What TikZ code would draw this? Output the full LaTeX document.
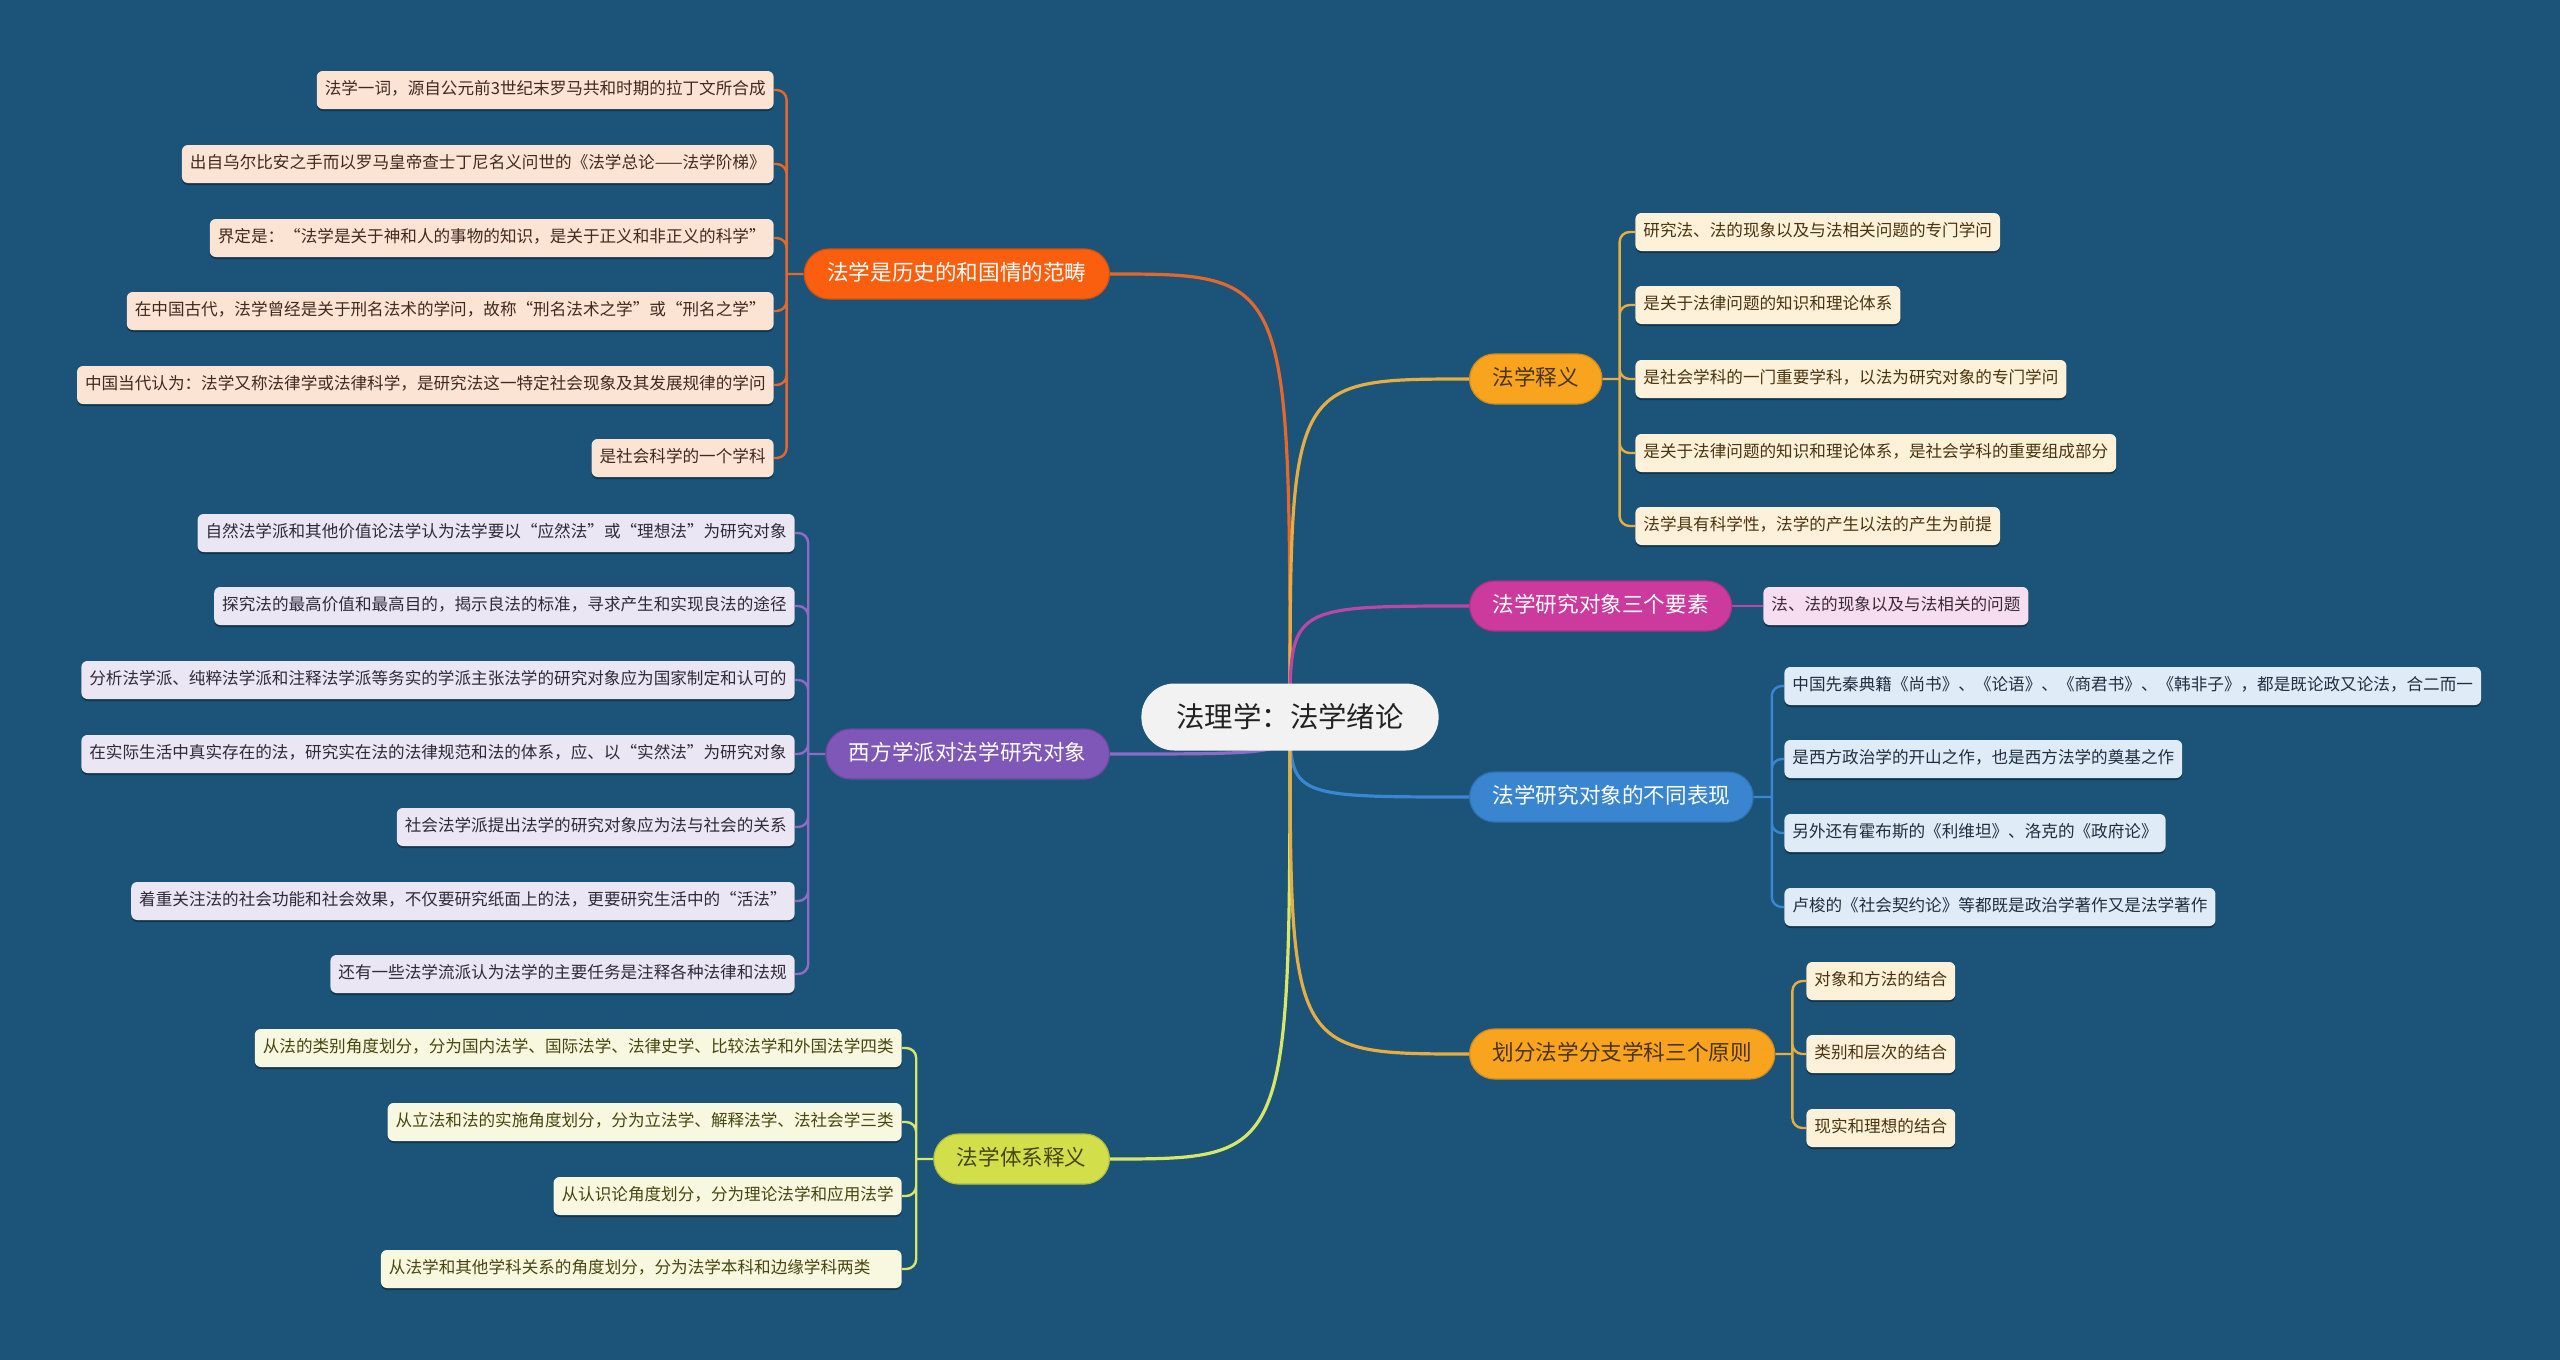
\documentclass[tikz,border=0pt]{standalone}
\usepackage{fontspec}
\setmainfont{Noto Sans CJK SC}
\usetikzlibrary{shadows}
\definecolor{BgClr}{HTML}{1B5478}
\definecolor{RootClr}{HTML}{F2F2F2}
\definecolor{RootTxtClr}{HTML}{222222}
\definecolor{TopicA}{HTML}{FA5F0F}
\definecolor{TopicB}{HTML}{7E57B8}
\definecolor{TopicC}{HTML}{D3DF4A}
\definecolor{TopicD}{HTML}{F9A41E}
\definecolor{TopicE}{HTML}{CB3A9C}
\definecolor{TopicF}{HTML}{3A85CF}
\definecolor{WireA}{HTML}{E2682E}
\definecolor{WireB}{HTML}{8E6BC7}
\definecolor{WireC}{HTML}{D8E66A}
\definecolor{WireD}{HTML}{E6AE42}
\definecolor{WireE}{HTML}{B847A7}
\definecolor{WireF}{HTML}{3A86D1}
\definecolor{LeafA}{HTML}{FCE4D4}
\definecolor{LeafB}{HTML}{EAE6F4}
\definecolor{LeafC}{HTML}{F8F8E0}
\definecolor{LeafD}{HTML}{FEF1D9}
\definecolor{LeafE}{HTML}{F6DEF0}
\definecolor{LeafF}{HTML}{DFEBF7}
\definecolor{TxtA}{HTML}{3E2A20}
\definecolor{TxtB}{HTML}{2E2A3A}
\definecolor{TxtC}{HTML}{45470F}
\definecolor{TxtD}{HTML}{4A3410}
\definecolor{TxtE}{HTML}{3A2A35}
\definecolor{TxtF}{HTML}{1F2F3F}
\pgfdeclarelayer{canvas}
\pgfdeclarelayer{wires}
\pgfsetlayers{canvas,wires,main}

\begin{document}
\begin{tikzpicture}[x=0.5pt,y=-0.5pt,
  rootbox/.style={fill=RootClr,text=RootTxtClr,rounded corners=16.5pt,minimum height=33.5pt,
    inner xsep=17.5pt,font=\fontsize{14.2pt}{16pt}\selectfont},
  topicbox/.style={fill=#1,draw=#1!85!black,line width=.6pt,rounded corners=12.5pt,minimum height=25pt,
    inner xsep=11.5pt,text height=8pt,text depth=2pt,font=\fontsize{10.8pt}{12pt}\selectfont},
  leafbox/.style={fill=#1,rounded corners=3pt,minimum height=19pt,inner xsep=4pt,
    text height=6.6pt,text depth=1.7pt,font=\fontsize{8.3pt}{10pt}\selectfont,
    drop shadow={shadow xshift=0pt,shadow yshift=-1pt,opacity=.35,fill=black}},
  wire/.style={draw=#1,line width=1.2pt,rounded corners=5pt},
  mainwire/.style={draw=#1,line width=1.6pt}]

\begin{pgfonlayer}{canvas}
\fill[BgClr] (0,0) rectangle (2560,1360);
\end{pgfonlayer}
\useasboundingbox (0,0) rectangle (2560,1360);

\node[rootbox] (root) at (1290,717) {法理学：法学绪论};

\node[topicbox=TopicA,text=white,anchor=east] (hist) at (1110,274) {法学是历史的和国情的范畴};
\node[topicbox=TopicB,text=white,anchor=east] (west) at (1110,754) {西方学派对法学研究对象};
\node[topicbox=TopicC,text=TxtC,anchor=east] (sys) at (1110,1159) {法学体系释义};
\node[topicbox=TopicD,text=TxtD,anchor=west] (mean) at (1469,379) {法学释义};
\node[topicbox=TopicE,text=white,anchor=west] (three) at (1469,606) {法学研究对象三个要素};
\node[topicbox=TopicF,text=white,anchor=west] (diff) at (1469,797) {法学研究对象的不同表现};
\node[topicbox=TopicD,text=TxtD,anchor=west] (rule) at (1469,1054) {划分法学分支学科三个原则};

\node[leafbox=LeafA,text=TxtA,anchor=east] (hist1) at (774,90) {法学一词，源自公元前3世纪末罗马共和时期的拉丁文所合成};
\node[leafbox=LeafA,text=TxtA,anchor=east] (hist2) at (774,164) {出自乌尔比安之手而以罗马皇帝查士丁尼名义问世的《法学总论——法学阶梯》};
\node[leafbox=LeafA,text=TxtA,anchor=east] (hist3) at (774,238) {界定是：“法学是关于神和人的事物的知识，是关于正义和非正义的科学”};
\node[leafbox=LeafA,text=TxtA,anchor=east] (hist4) at (774,311) {在中国古代，法学曾经是关于刑名法术的学问，故称“刑名法术之学”或“刑名之学”};
\node[leafbox=LeafA,text=TxtA,anchor=east] (hist5) at (774,385) {中国当代认为：法学又称法律学或法律科学，是研究法这一特定社会现象及其发展规律的学问};
\node[leafbox=LeafA,text=TxtA,anchor=east] (hist6) at (774,458) {是社会科学的一个学科};

\node[leafbox=LeafB,text=TxtB,anchor=east] (west1) at (795,533) {自然法学派和其他价值论法学认为法学要以“应然法”或“理想法”为研究对象};
\node[leafbox=LeafB,text=TxtB,anchor=east] (west2) at (795,606) {探究法的最高价值和最高目的，揭示良法的标准，寻求产生和实现良法的途径};
\node[leafbox=LeafB,text=TxtB,anchor=east] (west3) at (795,680) {分析法学派、纯粹法学派和注释法学派等务实的学派主张法学的研究对象应为国家制定和认可的};
\node[leafbox=LeafB,text=TxtB,anchor=east] (west4) at (795,754) {在实际生活中真实存在的法，研究实在法的法律规范和法的体系，应、以“实然法”为研究对象};
\node[leafbox=LeafB,text=TxtB,anchor=east] (west5) at (795,827) {社会法学派提出法学的研究对象应为法与社会的关系};
\node[leafbox=LeafB,text=TxtB,anchor=east] (west6) at (795,901) {着重关注法的社会功能和社会效果，不仅要研究纸面上的法，更要研究生活中的“活法”};
\node[leafbox=LeafB,text=TxtB,anchor=east] (west7) at (795,974) {还有一些法学流派认为法学的主要任务是注释各种法律和法规};

\node[leafbox=LeafC,text=TxtC,anchor=east] (sys1) at (902,1048) {从法的类别角度划分，分为国内法学、国际法学、法律史学、比较法学和外国法学四类};
\node[leafbox=LeafC,text=TxtC,anchor=east] (sys2) at (902,1122) {从立法和法的实施角度划分，分为立法学、解释法学、法社会学三类};
\node[leafbox=LeafC,text=TxtC,anchor=east] (sys3) at (902,1196) {从认识论角度划分，分为理论法学和应用法学};
\node[leafbox=LeafC,text=TxtC,anchor=east] (sys4) at (902,1269) {从法学和其他学科关系的角度划分，分为法学本科和边缘学科两类\hspace*{1.4em}};

\node[leafbox=LeafD,text=TxtD,anchor=west] (mean1) at (1635,232) {研究法、法的现象以及与法相关问题的专门学问};
\node[leafbox=LeafD,text=TxtD,anchor=west] (mean2) at (1635,305) {是关于法律问题的知识和理论体系};
\node[leafbox=LeafD,text=TxtD,anchor=west] (mean3) at (1635,379) {是社会学科的一门重要学科，以法为研究对象的专门学问};
\node[leafbox=LeafD,text=TxtD,anchor=west] (mean4) at (1635,453) {是关于法律问题的知识和理论体系，是社会学科的重要组成部分};
\node[leafbox=LeafD,text=TxtD,anchor=west] (mean5) at (1635,526) {法学具有科学性，法学的产生以法的产生为前提};

\node[leafbox=LeafE,text=TxtE,anchor=west] (three1) at (1763,606) {法、法的现象以及与法相关的问题};

\node[leafbox=LeafF,text=TxtF,anchor=west] (diff1) at (1784,686) {中国先秦典籍《尚书》、《论语》、《商君书》、《韩非子》，都是既论政又论法，合二而一};
\node[leafbox=LeafF,text=TxtF,anchor=west] (diff2) at (1784,759) {是西方政治学的开山之作，也是西方法学的奠基之作};
\node[leafbox=LeafF,text=TxtF,anchor=west] (diff3) at (1784,833) {另外还有霍布斯的《利维坦》、洛克的《政府论》};
\node[leafbox=LeafF,text=TxtF,anchor=west] (diff4) at (1784,907) {卢梭的《社会契约论》等都既是政治学著作又是法学著作};

\node[leafbox=LeafD,text=TxtD,anchor=west] (rule1) at (1806,981) {对象和方法的结合};
\node[leafbox=LeafD,text=TxtD,anchor=west] (rule2) at (1806,1054) {类别和层次的结合};
\node[leafbox=LeafD,text=TxtD,anchor=west] (rule3) at (1806,1128) {现实和理想的结合};

\path (hist.west) ++(-17,0) coordinate (histhub);
\path (west.west) ++(-17,0) coordinate (westhub);
\path (sys.west) ++(-17,0) coordinate (syshub);
\path (mean.east) ++(17,0) coordinate (meanhub);
\path (diff.east) ++(18,0) coordinate (diffhub);
\path (rule.east) ++(17,0) coordinate (rulehub);

\begin{pgfonlayer}{wires}
\draw[mainwire=WireA] (root.center) .. controls (root.center |- hist.east) .. (hist.east);
\draw[mainwire=WireB] (root.center) .. controls (root.center |- west.east) .. (west.east);
\draw[mainwire=WireC] (root.center) .. controls (root.center |- sys.east) .. (sys.east);
\draw[mainwire=WireD] (root.center) .. controls (root.center |- mean.west) .. (mean.west);
\draw[mainwire=WireE] (root.center) .. controls (root.center |- three.west) .. (three.west);
\draw[mainwire=WireF] (root.center) .. controls (root.center |- diff.west) .. (diff.west);
\draw[mainwire=WireD] (root.center) .. controls (root.center |- rule.west) .. (rule.west);

\draw[wire=WireA] (hist.west) -- (histhub) (histhub) |- (hist1.east) (histhub) |- (hist2.east)
  (histhub) |- (hist3.east) (histhub) |- (hist4.east) (histhub) |- (hist5.east) (histhub) |- (hist6.east);
\draw[wire=WireB] (west.west) -- (westhub) (westhub) |- (west1.east) (westhub) |- (west2.east)
  (westhub) |- (west3.east) (westhub) |- (west4.east) (westhub) |- (west5.east) (westhub) |- (west6.east)
  (westhub) |- (west7.east);
\draw[wire=WireC] (sys.west) -- (syshub) (syshub) |- (sys1.east) (syshub) |- (sys2.east)
  (syshub) |- (sys3.east) (syshub) |- (sys4.east);
\draw[wire=WireD] (mean.east) -- (meanhub) (meanhub) |- (mean1.west) (meanhub) |- (mean2.west)
  (meanhub) |- (mean3.west) (meanhub) |- (mean4.west) (meanhub) |- (mean5.west);
\draw[wire=WireE] (three.east) -- (three1.west);
\draw[wire=WireF] (diff.east) -- (diffhub) (diffhub) |- (diff1.west) (diffhub) |- (diff2.west)
  (diffhub) |- (diff3.west) (diffhub) |- (diff4.west);
\draw[wire=WireD] (rule.east) -- (rulehub) (rulehub) |- (rule1.west) (rulehub) |- (rule2.west)
  (rulehub) |- (rule3.west);
\end{pgfonlayer}

\end{tikzpicture}
\end{document}
